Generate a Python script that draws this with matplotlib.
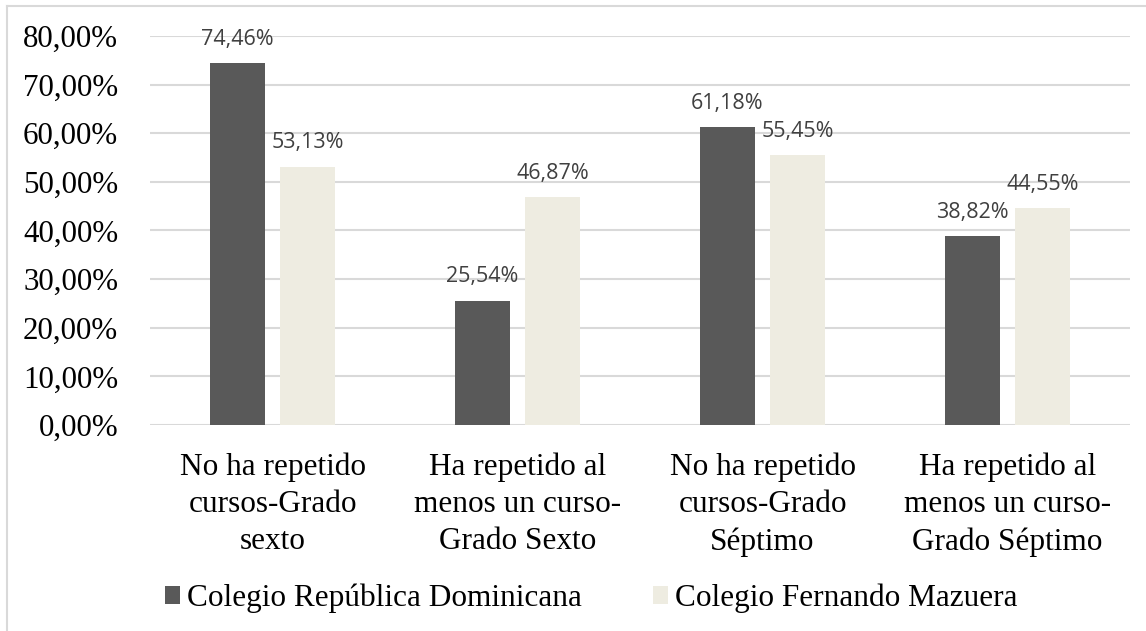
import matplotlib.pyplot as plt
from matplotlib.lines import Line2D
import numpy as np

categorias = ["No ha repetido\ncursos-Grado\nsexto",
              "Ha repetido al\nmenos un curso-\nGrado Sexto",
              "No ha repetido\ncursos-Grado\nSéptimo",
              "Ha repetido al\nmenos un curso-\nGrado Séptimo"]
rep_dominicana = [74.46, 25.54, 61.18, 38.82]
fernando_mazuera = [53.13, 46.87, 55.45, 44.55]
series = ["Colegio República Dominicana", "Colegio Fernando Mazuera"]
colores = ["#595959", "#EEECE1"]

fig = plt.figure(figsize=(11.46, 6.31), dpi=100)
ax = fig.add_axes([0.131, 0.3265, 0.855, 0.6165])

x = np.arange(len(categorias))
w = 0.224
off = 0.143
for vals, col, nom, d in zip([rep_dominicana, fernando_mazuera], colores, series, [-off, off]):
    bars = ax.bar(x + d, vals, w, color=col, label=nom, zorder=3)
    for b, v in zip(bars, vals):
        ax.text(b.get_x() + b.get_width() / 2, v + 4.9, f"{v:.2f}%".replace(".", ","),
                ha="center", va="center", fontsize=15.5, color="#404040",
                family="Open Sans", zorder=4)

ax.set_xlim(-0.5, 3.5)
ax.set_ylim(0, 80)
ax.set_yticks(np.arange(0, 81, 10))
ax.set_yticklabels([f"{t:.2f}%".replace(".", ",") for t in np.arange(0, 81, 10)],
                   family="Liberation Serif", fontsize=22.3)
ax.set_xticks(x)
ax.set_xticklabels(categorias, family="Liberation Serif", fontsize=22.5, linespacing=1.36)
ax.tick_params(axis="y", length=0, pad=23)
ax.tick_params(axis="x", length=0, pad=20)
ax.grid(axis="y", color="#D9D9D9", linewidth=1.5, zorder=0)
for s in ax.spines.values():
    s.set_visible(False)

leg = fig.legend(loc="center", bbox_to_anchor=(0.516, 0.052), ncol=2, frameon=False,
                 prop={"family": "Liberation Serif", "size": 22.5},
                 handlelength=0.48, handleheight=0.48, handletextpad=0.2, columnspacing=2.3)

# borde de la figura
fig.add_artist(Line2D([7 / 1146, 7 / 1146], [0, 1 - 6 / 631], color="#D9D9D9", linewidth=1.5))
fig.add_artist(Line2D([7 / 1146, 1], [1 - 6 / 631, 1 - 6 / 631], color="#D9D9D9", linewidth=1.5))

fig.savefig("out.png", dpi=100)
